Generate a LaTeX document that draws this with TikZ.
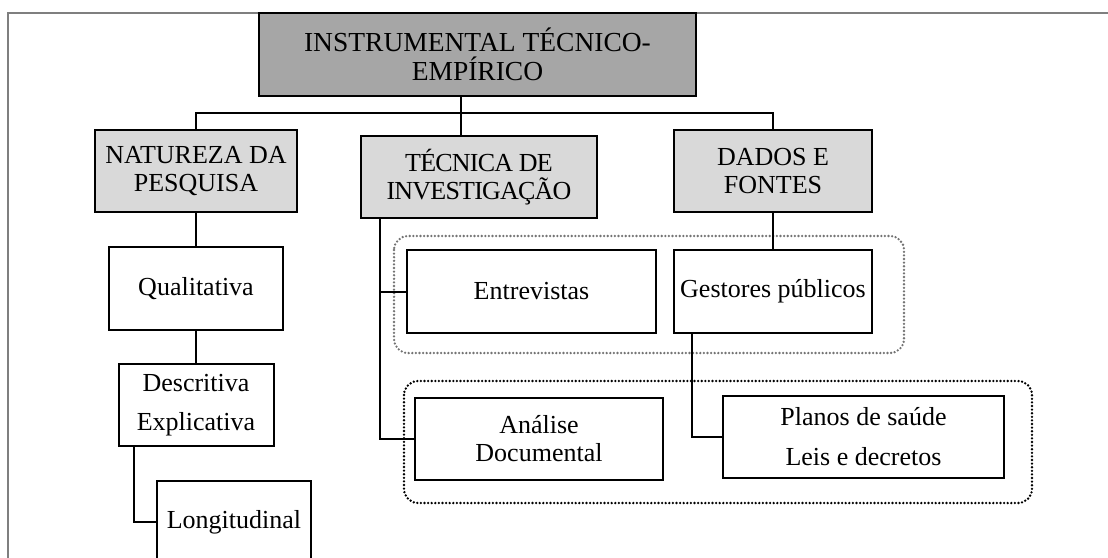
\documentclass[tikz,border=0pt]{standalone}
\usepackage{fontspec}
\setmainfont{Liberation Serif}
\usepackage{xcolor}
\usetikzlibrary{calc}
\definecolor{cinzaescuro}{HTML}{A6A6A6}
\definecolor{cinzaclaro}{HTML}{D9D9D9}
\definecolor{moldura}{HTML}{7F7F7F}
\tikzset{
  caixa/.style={draw, line width=2pt, inner sep=0pt, align=center,
    font=\fontsize{26}{28}\selectfont},
  titulo/.style={caixa, fill=cinzaescuro},
  ramo/.style={caixa, fill=cinzaclaro},
  folha/.style={caixa, fill=white},
  liga/.style={line width=2pt},
  grupo/.style={line width=2.6pt, line cap=round, dash pattern=on 0pt off 3.6pt, rounded corners=14pt}
}

\begin{document}
\begin{tikzpicture}[x=1pt, y=-1pt]
		\useasboundingbox (0,0) rectangle (1108,557);
		\clip (0,0) rectangle (1108,557);
		% moldura
		\draw[moldura, line width=1.2pt] (8,600) -- (8,13) -- (1120,13);

		% grupos pontilhados
		\draw[grupo, black!55] (394,236) rectangle (904,353);
		\draw[grupo, black] (404,381) rectangle (1032,503);

		% caixas
		\node[titulo, minimum width=437pt, minimum height=83pt, font=\fontsize{27.5}{29}\selectfont] (topo) at (477.5,54.5) {INSTRUMENTAL TÉCNICO-\\EMPÍRICO};
		\node[ramo, minimum width=202pt, minimum height=82pt] (natureza) at (196,171) {NATUREZA DA\\PESQUISA};
		\node[ramo, minimum width=236pt, minimum height=82pt] (tecnica) at (479,177) {\addfontfeature{LetterSpace=-3}TÉCNICA DE\\\addfontfeature{LetterSpace=-3}INVESTIGAÇÃO};
		\node[ramo, minimum width=198pt, minimum height=82pt] (dados) at (773,171) {DADOS E\\FONTES};
		\node[folha, minimum width=174pt, minimum height=83pt] (quali) at (196,288.5) {Qualitativa};
		\node[folha, minimum width=155pt, minimum height=82pt, font=\fontsize{26}{39}\selectfont] (descr) at (196,405) {Descritiva\\Explicativa};
		\node[folha, minimum width=154pt, minimum height=82pt] (longi) at (234,522) {Longitudinal};
		\node[folha, minimum width=249pt, minimum height=83pt] (entre) at (531.5,291.5) {Entrevistas};
		\node[folha, minimum width=198pt, minimum height=83pt] (gestores) at (773,291.5) {Gestores públicos};
		\node[folha, minimum width=248pt, minimum height=82pt] (analise) at (539,439) {Análise\\Documental};
		\node[folha, minimum width=281pt, minimum height=82pt, font=\fontsize{26}{40}\selectfont] (planos) at (863.5,437) {Planos de saúde\\Leis e decretos};

		% ligacoes
		\coordinate (tronco) at (461,113);
		\draw[liga] (topo.south -| tronco) -- (tecnica.north -| tronco);
		\draw[liga] (natureza.north) |- (tronco) -| (dados.north);
		\draw[liga] (natureza) -- (quali);
		\draw[liga] (quali) -- (descr);
		\draw[liga] ([xshift=16pt]descr.south west) |- (longi.west);
		\draw[liga] ([xshift=20pt]tecnica.south west) |- (entre.west);
		\draw[liga] ([xshift=20pt]tecnica.south west) |- (analise.west);
		\draw[liga] (dados) -- (gestores);
		\draw[liga] ([xshift=19pt]gestores.south west) |- (planos.west);
	\end{tikzpicture}
\end{document}
